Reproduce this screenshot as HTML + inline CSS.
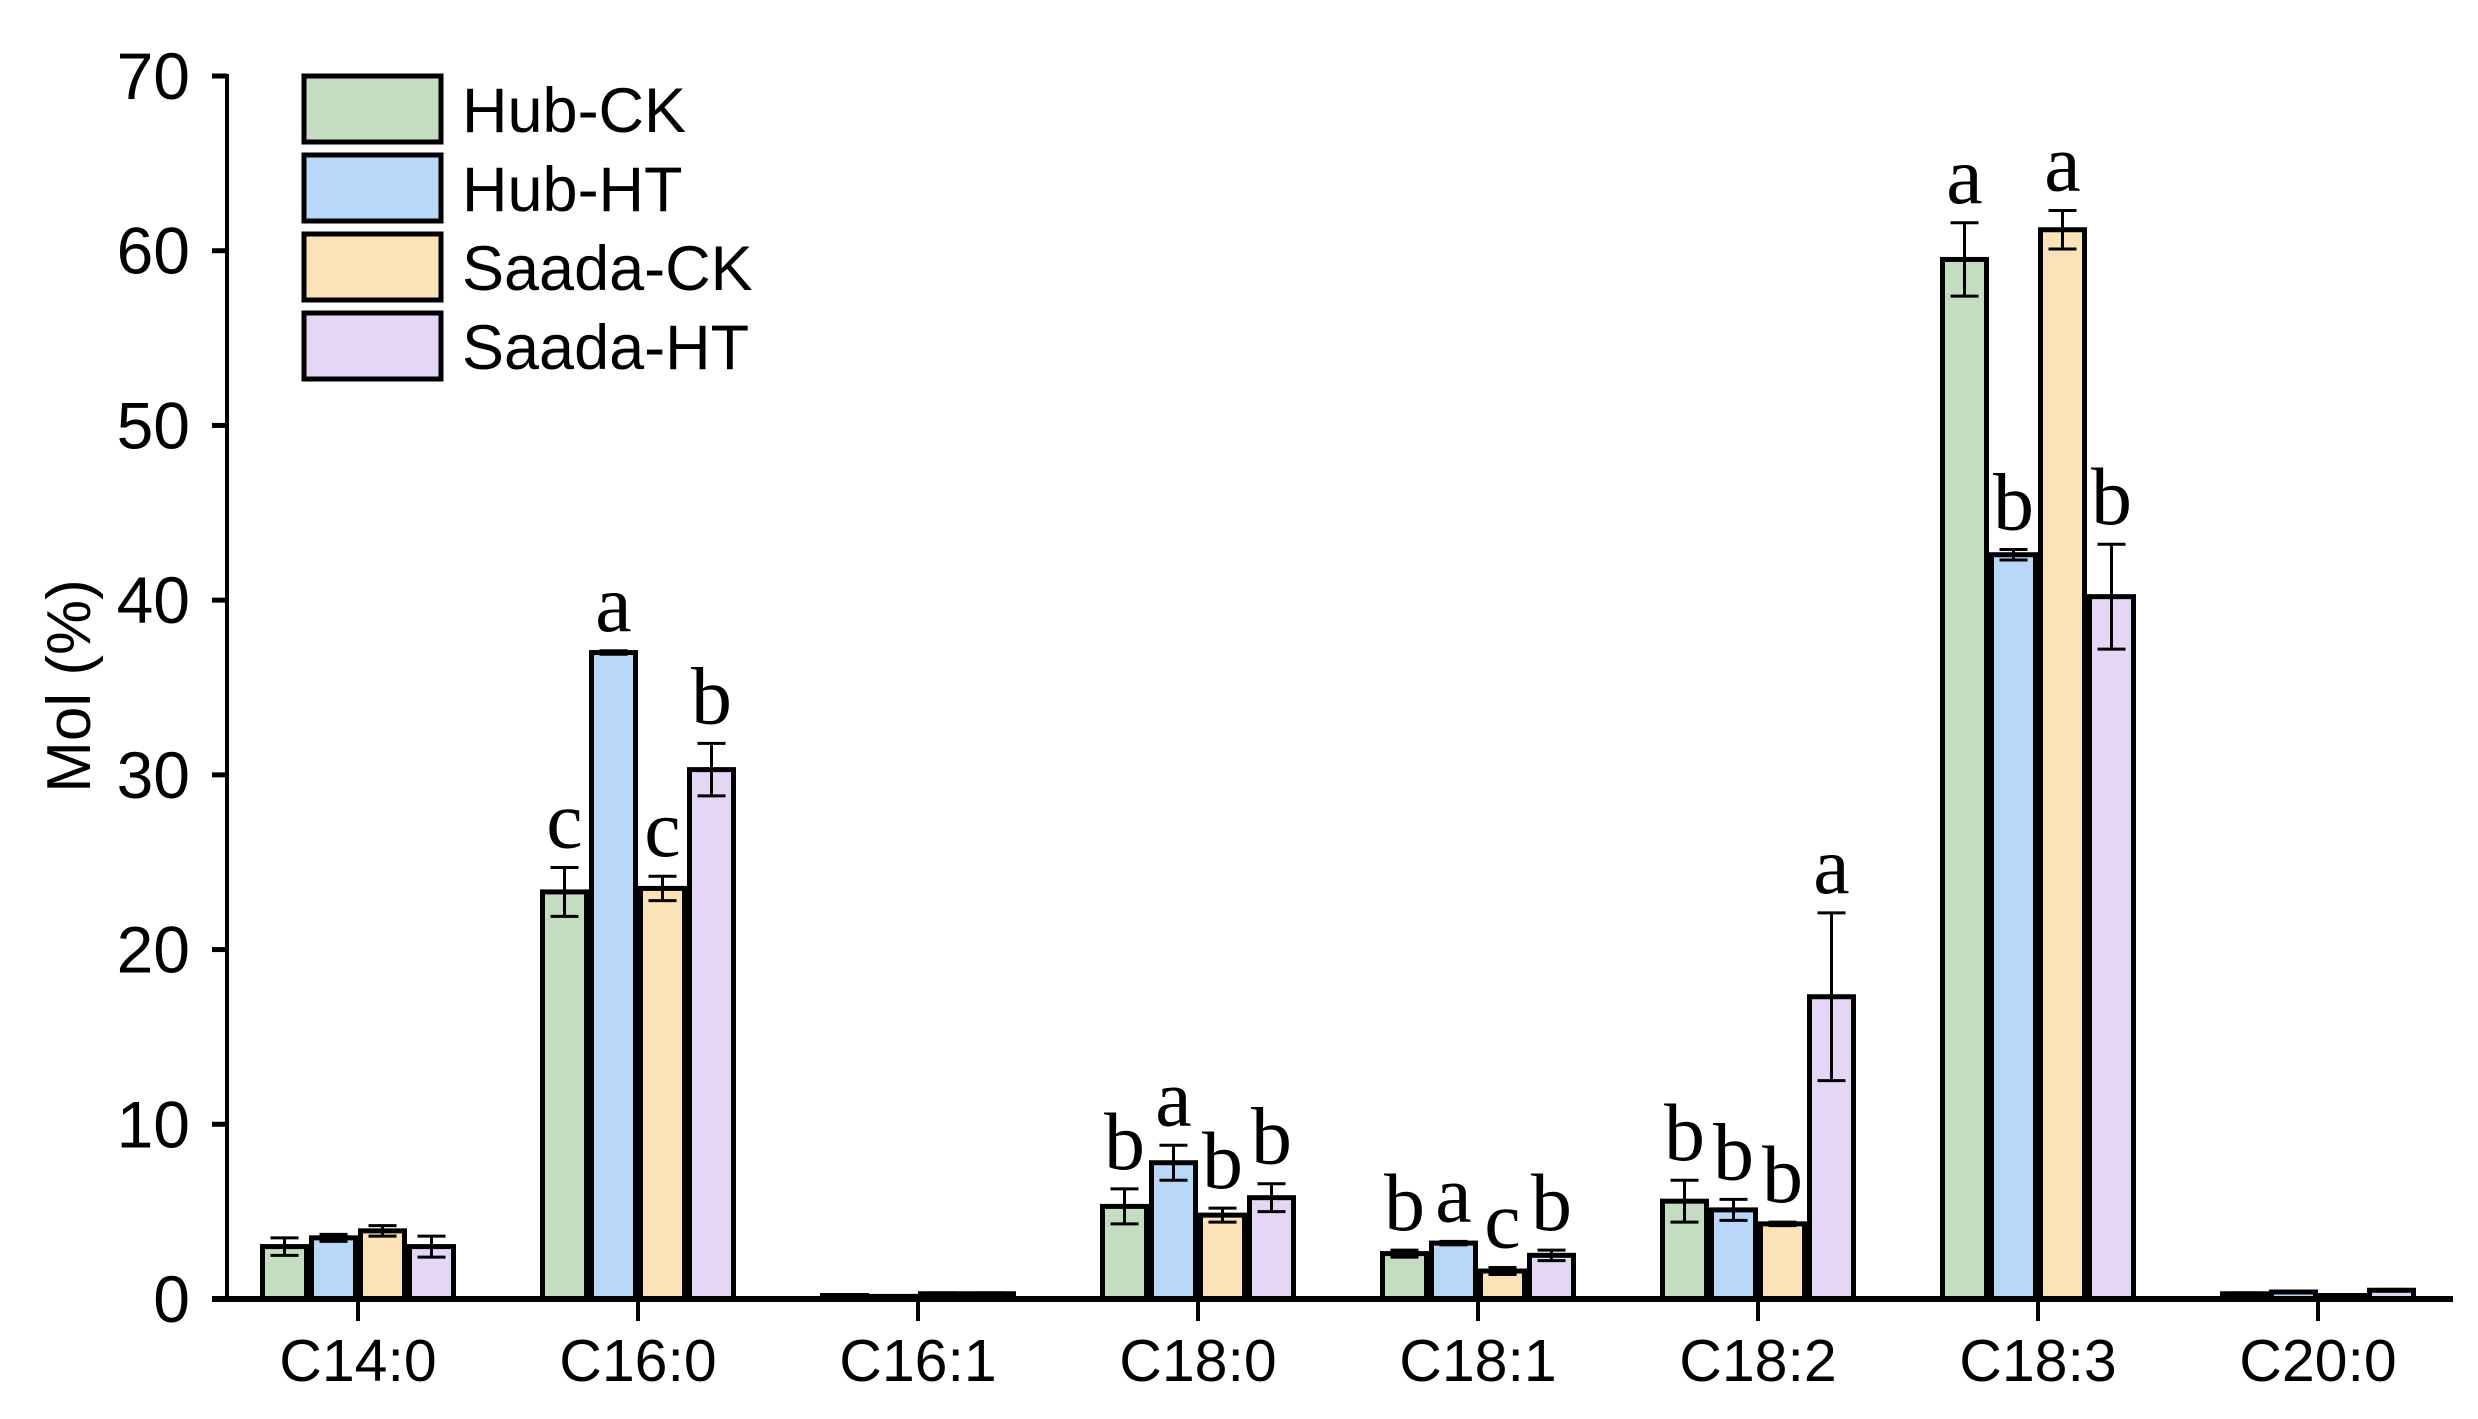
<!DOCTYPE html>
<html><head><meta charset="utf-8"><style>
html,body{margin:0;padding:0;background:#fff;}
svg{display:block;}
</style></head><body>
<svg id="chart" width="2478" height="1419" viewBox="0 0 2478 1419" xmlns="http://www.w3.org/2000/svg"></svg>
<script>
const categories = ["C14:0","C16:0","C16:1","C18:0","C18:1","C18:2","C18:3","C20:0"];
const seriesNames = ["Hub-CK","Hub-HT","Saada-CK","Saada-HT"];
const hubCK = [3.0,23.3,0.2,5.3,2.6,5.6,59.5,0.3];
const hubHT = [3.5,37.0,0.15,7.8,3.2,5.1,42.6,0.4];
const saadaCK = [3.9,23.5,0.3,4.8,1.6,4.3,61.2,0.2];
const saadaHT = [3.0,30.3,0.3,5.8,2.5,17.3,40.2,0.5];
const hubCKErr = [0.5,1.4,0.05,1.0,0.2,1.2,2.1,0.05];
const hubHTErr = [0.2,0.1,0.05,1.0,0.1,0.6,0.3,0.05];
const saadaCKErr = [0.3,0.7,0.05,0.4,0.2,0.1,1.1,0.05];
const saadaHTErr = [0.6,1.5,0.05,0.8,0.3,4.8,3.0,0.05];
const hubCKLetters = ["","c","","b","b","b","a",""];
const hubHTLetters = ["","a","","a","a","b","b",""];
const saadaCKLetters = ["","c","","b","c","b","a",""];
const saadaHTLetters = ["","b","","b","b","a","b",""];
const yTicks = [0,10,20,30,40,50,60,70];

const NS="http://www.w3.org/2000/svg";
const svg=document.getElementById('chart');
const colors=["#c4dcc0","#b9d7f8","#fbe3b7","#e5d6f6"];
const values=[hubCK,hubHT,saadaCK,saadaHT];
const errs=[hubCKErr,hubHTErr,saadaCKErr,saadaHTErr];
const letters=[hubCKLetters,hubHTLetters,saadaCKLetters,saadaHTLetters];
const y0=1299, yTop=76, yMax=70;
function y(v){return y0-(v/yMax)*(y0-yTop);}
const x0=358, step=280;
function x(i){return x0+i*step;}
const barW=44, barStep=49;
function mk(tag,attrs,parent){const e=document.createElementNS(NS,tag);for(const k in attrs)e.setAttribute(k,attrs[k]);(parent||svg).appendChild(e);return e;}

// y axis
const ya=mk('g',{});


mk('line',{x1:227,y1:yTop-2,x2:227,y2:y0,stroke:'#000','stroke-width':4},ya);
yTicks.forEach(t=>{
  mk('line',{x1:212,y1:y(t),x2:227,y2:y(t),stroke:'#000','stroke-width':5},ya);
  const tx=mk('text',{x:190,y:y(t)+23,'text-anchor':'end','font-family':'Liberation Sans, sans-serif','font-size':66,fill:'#000'},ya);
  tx.textContent=t;
  
  
});
const yt=mk('text',{x:0,y:0,transform:'translate(90,686) rotate(-90)','text-anchor':'middle','font-family':'Liberation Sans, sans-serif','font-size':62,fill:'#000'});
yt.textContent='Mol (%)';



// bars
categories.forEach((c,i)=>{
  const g=mk('g',{});
  
  
  for(let s=0;s<4;s++){
    const cx=x(i)+(s-1.5)*barStep;
    const v=values[s][i], e=errs[s][i];
    const r=mk('rect',{x:cx-barW/2,y:y(v),width:barW,height:y0-y(v),fill:colors[s],stroke:'#000','stroke-width':5},g);
    
    
    const eg=mk('g',{stroke:'#000','stroke-width':3},g);
    
    
    mk('line',{x1:cx,y1:y(v+e),x2:cx,y2:y(v-e)},eg);
    mk('line',{x1:cx-14,y1:y(v+e),x2:cx+14,y2:y(v+e)},eg);
    mk('line',{x1:cx-14,y1:y(v-e),x2:cx+14,y2:y(v-e)},eg);
    const L=letters[s][i];
    if(L){
      const t=mk('text',{x:cx,y:y(v+e)-20,'text-anchor':'middle','font-family':'Liberation Serif, serif','font-size':82,fill:'#000'},g);
      t.textContent=L;
      
      
    }
  }
});

// x axis
const xa=mk('g',{});


mk('line',{x1:212,y1:y0,x2:2453,y2:y0,stroke:'#000','stroke-width':6},xa);
categories.forEach((c,i)=>{
  mk('line',{x1:x(i),y1:y0,x2:x(i),y2:y0+22,stroke:'#000','stroke-width':4},xa);
  const t=mk('text',{x:x(i),y:y0+82,'text-anchor':'middle','font-family':'Liberation Sans, sans-serif','font-size':59,fill:'#000'},xa);
  t.textContent=c;
  
  
});

// legend
const lg=mk('g',{});


seriesNames.forEach((n,s)=>{
  const ly=76+s*79;
  const eg=mk('g',{},lg);
  
  
  mk('rect',{x:304,y:ly,width:137,height:66,fill:colors[s],stroke:'#000','stroke-width':5},eg);
  const t=mk('text',{x:462,y:ly+56,'font-family':'Liberation Sans, sans-serif','font-size':63,fill:'#000'},eg);
  t.textContent=n;
});
</script>
</body></html>
